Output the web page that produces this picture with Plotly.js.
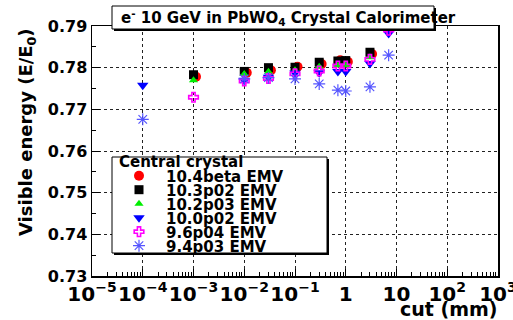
<!DOCTYPE html>
<html><head><meta charset="utf-8">
<script src="https://cdn.plot.ly/plotly-3.0.1.min.js"></script>
<style>html,body{margin:0;padding:0;background:#fff;}#chart{width:513px;height:320px;}</style>
</head><body><div id="chart"></div>
<script>
// ---- data ----
const cuts      = [1e-4, 1e-3, 0.01, 0.03, 0.1, 0.3, 0.7, 1, 3, 7];          // cut (mm)
const cutsRed   = [1.1e-4, 1.12e-3, 0.0112, 0.0335, 0.112, 0.335, 0.78, 1.1, 3.3, 7.7]; // red markers sit slightly right
const v104beta  = [null, 0.7778, 0.7788, 0.7794, 0.7802, 0.7809, 0.7818, 0.7814, 0.7833, null];
const v103p02   = [null, 0.7783, 0.7791, 0.7800, 0.7801, 0.7813, 0.7816, 0.7817, 0.7837, null];
const v102p03   = [null, 0.7770, 0.7785, 0.7790, 0.7794, 0.7802, 0.7805, 0.7806, 0.7825, null];
const v100p02   = [0.7758, null, 0.7770, 0.7777, 0.7787, 0.7788, 0.7791, 0.7791, 0.7810, 0.7882];
const v96p04    = [null, 0.7729, 0.7768, 0.7774, 0.7785, 0.7792, 0.7804, 0.7804, 0.7820, 0.7890];
const v94p03    = [0.7676, null, 0.7773, 0.7776, 0.7773, 0.7761, 0.7746, 0.7744, 0.7754, 0.7830];
const seriesNames = ['10.4beta EMV', '10.3p02 EMV', '10.2p03 EMV', '10.0p02 EMV', '9.6p04 EMV', '9.4p03 EMV'];
const titleText  = 'e<sup>-</sup> 10 GeV in PbWO<sub>4</sub> Crystal Calorimeter';
const legendHead = 'Central crystal';
const xTitle = 'cut (mm)';
const yTitle = 'Visible energy (E/E<sub>0</sub>)';

// ---- drawing ----
const F = 'DejaVu Sans';
const W = 513, H = 320, ML = 92, MR = 15, MT = 26, MB = 44;
const PW = W - ML - MR, PH = H - MT - MB;
const px = x => (x - ML) / PW;          // pixel -> paper
const py = y => (H - MB - y) / PH;

const traces = [
  {x: cutsRed, y: v104beta, name: seriesNames[0], marker: {symbol: 'circle', size: 10, color: '#ff0000'}},
  {x: cuts, y: v103p02, name: seriesNames[1], marker: {symbol: 'square', size: 9, color: '#000000'}},
  {x: cuts, y: v102p03, name: seriesNames[2], marker: {symbol: 'triangle-up', size: 8, color: '#00ee00'}},
  {x: cuts, y: v100p02, name: seriesNames[3], marker: {symbol: 'triangle-down', size: 10, color: '#0000ff'}},
  {x: cuts, y: v96p04, name: seriesNames[4], marker: {symbol: 'cross-open', size: 8, color: '#ff00ff', line: {width: 1.6, color: '#ff00ff'}}},
  {x: cuts, y: v94p03, name: seriesNames[5], marker: {symbol: 'asterisk-open', size: 10, color: '#5555ff', line: {width: 1.2, color: '#5555ff'}}}
].map(t => Object.assign({type: 'scatter', mode: 'markers'}, t));

const axisCommon = {
  showline: true, linecolor: '#000', linewidth: 1.5, mirror: true,
  ticks: 'inside', tickcolor: '#000', tickwidth: 1,
  showgrid: true, gridcolor: '#222', griddash: 'dot', gridwidth: 1,
  zeroline: false, automargin: false, ticklabeloverflow: 'allow',
  tickfont: {family: F, size: 16, weight: 'bold', color: '#000'}
};

const layout = {
  width: W, height: H, margin: {l: ML, r: MR, t: MT, b: MB},
  paper_bgcolor: '#fff', plot_bgcolor: '#fff',
  showlegend: true,
  xaxis: Object.assign({}, axisCommon, {
    type: 'log', range: [-5, 3], dtick: 1, exponentformat: 'power', ticklen: 7, tickangle: 0,
    minor: {ticks: 'inside', ticklen: 4, tickcolor: '#000', showgrid: false}
  }),
  yaxis: Object.assign({}, axisCommon, {
    range: [0.73, 0.79], tick0: 0.73, dtick: 0.01, tickformat: '.2f', ticklen: 8,
    minor: {ticks: 'inside', ticklen: 4, dtick: 0.005, tick0: 0.73, tickcolor: '#000', showgrid: false}
  }),
  legend: {
    x: px(112), y: py(157), xanchor: 'left', yanchor: 'top',
    bgcolor: 'rgba(0,0,0,0)', borderwidth: 0, itemwidth: 44, tracegroupgap: 0,
    font: {family: F, size: 15, weight: 'bold', color: '#000'}
  },
  shapes: [
    // title pave (shadow + box)
    {type: 'rect', xref: 'paper', yref: 'paper', layer: 'above', x0: px(114), x1: px(436), y0: py(31), y1: py(8), fillcolor: '#000', line: {width: 0}},
    {type: 'rect', xref: 'paper', yref: 'paper', layer: 'above', x0: px(112), x1: px(434), y0: py(29), y1: py(6), fillcolor: '#fff', line: {width: 1, color: '#000'}},
    // legend pave (shadow + box)
    {type: 'rect', xref: 'paper', yref: 'paper', layer: 'above', x0: px(114), x1: px(329), y0: py(255), y1: py(159), fillcolor: '#000', line: {width: 0}},
    {type: 'rect', xref: 'paper', yref: 'paper', layer: 'above', x0: px(112), x1: px(327), y0: py(253), y1: py(157), fillcolor: '#fff', line: {width: 1, color: '#000'}}
  ],
  annotations: [
    {text: titleText, xref: 'paper', yref: 'paper', x: px(119), y: py(17.5), xanchor: 'left', yanchor: 'middle', showarrow: false,
     font: {family: F, size: 15, weight: 'bold', color: '#000'}},
    {text: legendHead, xref: 'paper', yref: 'paper', x: px(117), y: py(162), xanchor: 'left', yanchor: 'middle', showarrow: false,
     font: {family: F, size: 15, weight: 'bold', color: '#000'}},
    {text: xTitle, xref: 'paper', yref: 'paper', x: px(499), y: py(309), xanchor: 'right', yanchor: 'middle', showarrow: false,
     font: {family: F, size: 19, weight: 'bold', color: '#000'}},
    {text: yTitle, xref: 'paper', yref: 'paper', x: px(27), y: py(26), xanchor: 'center', yanchor: 'top', textangle: -90, showarrow: false,
     font: {family: F, size: 18, weight: 'bold', color: '#000'}}
  ]
};

const gd = document.getElementById('chart');
function parseT(el) {
  const m = /translate\(\s*([-\d.e]+)[ ,]+([-\d.e]+)/.exec(el.getAttribute('transform') || '');
  return m ? [parseFloat(m[1]), parseFloat(m[2])] : [0, 0];
}
function fixLegend() {
  const leg = gd.querySelector('g.legend');
  if (!leg) return;
  const [, ly] = parseT(leg);
  const items = gd.querySelectorAll('g.legend g.traces');
  items.forEach((el, i) => {
    const [tx] = parseT(el);
    el.setAttribute('transform', 'translate(' + tx + ',' + (175.7 + 14 * i - ly) + ')');
  });
}
Plotly.newPlot(gd, traces, layout, {displayModeBar: false, staticPlot: true}).then(() => {
  fixLegend();
  gd.on && gd.on('plotly_afterplot', fixLegend);
});
</script></body></html>
